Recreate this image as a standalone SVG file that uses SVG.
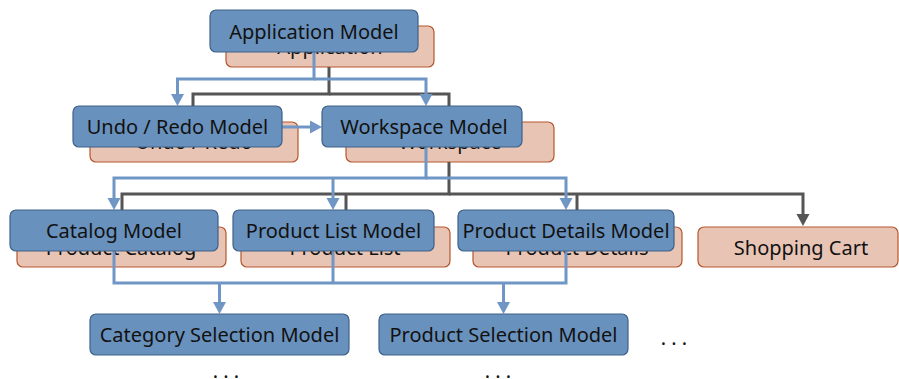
<svg xmlns="http://www.w3.org/2000/svg" width="899" height="379" viewBox="0 0 899 379">
<style>
.pink{fill:#E8C4B5;stroke:#B5562E;stroke-width:1.2}
.blue{fill:#6991BD;stroke:#3E6289;stroke-width:1.2}
text{font-family:"Noto Sans","Liberation Sans",sans-serif;font-size:20px;fill:#111;text-anchor:middle}
.bl{fill:none;stroke:#6F96C4;stroke-width:3}
.dk{fill:none;stroke:#555;stroke-width:3}
</style>
<defs>
<marker id="ab" markerUnits="userSpaceOnUse" markerWidth="13" markerHeight="14" refX="0" refY="6.5" orient="auto"><path d="M0,0 L12,6.5 L0,13 z" fill="#6F96C4"/></marker>
<marker id="ad" markerUnits="userSpaceOnUse" markerWidth="13" markerHeight="14" refX="0" refY="6.5" orient="auto"><path d="M0,0 L12,6.5 L0,13 z" fill="#555"/></marker>
</defs>
<g id="pink-nodes">
<g id="n-application"><rect class="pink" x="226" y="26" width="208" height="41" rx="6"/><text x="330" y="54">Application</text></g>
<g id="n-undoredo"><rect class="pink" x="90" y="122" width="208" height="40" rx="6"/><text x="194" y="149">Undo / Redo</text></g>
<g id="n-workspace"><rect class="pink" x="346" y="122" width="208" height="40" rx="6"/><text x="450" y="149">Workspace</text></g>
<g id="n-productcatalog"><rect class="pink" x="17" y="227" width="209" height="40" rx="6"/><text x="121" y="255">Product Catalog</text></g>
<g id="n-productlist"><rect class="pink" x="241" y="227" width="209" height="40" rx="6"/><text x="345" y="255">Product List</text></g>
<g id="n-productdetails"><rect class="pink" x="473" y="227" width="209" height="40" rx="6"/><text x="577" y="255">Product Details</text></g>
<g id="n-shoppingcart"><rect class="pink" x="698" y="227" width="200" height="40" rx="6"/><text x="801" y="255">Shopping Cart</text></g>
</g>
<g id="connectors">
<path class="dk" d="M329,67 V94 H193 V110" marker-end="url(#ad)"/>
<path class="dk" d="M329,94 H449 V110" marker-end="url(#ad)"/>
<path class="dk" d="M449,162 V194 H122 V214" marker-end="url(#ad)"/>
<path class="dk" d="M346,194 V214" marker-end="url(#ad)"/>
<path class="dk" d="M577,194 V214" marker-end="url(#ad)"/>
<path class="dk" d="M449,194 H803 V214" marker-end="url(#ad)"/>
<path class="bl" d="M314,52 V79 H177.5 V94" marker-end="url(#ab)"/>
<path class="bl" d="M314,79 H426 V94" marker-end="url(#ab)"/>
<path class="bl" d="M282,127 H310" marker-end="url(#ab)"/>
<path class="bl" d="M426,147 V178 H114 V198" marker-end="url(#ab)"/>
<path class="bl" d="M333,178 V198" marker-end="url(#ab)"/>
<path class="bl" d="M426,178 H566 V198" marker-end="url(#ab)"/>
<path class="bl" d="M114,251 V283 H566 V251"/>
<path class="bl" d="M333,251 V283"/>
<path class="bl" d="M219.5,283 V302" marker-end="url(#ab)"/>
<path class="bl" d="M503.5,283 V302" marker-end="url(#ab)"/>
</g>
<g id="blue-nodes">
<g id="n-application-model"><rect class="blue" x="210" y="10" width="208" height="42" rx="6"/><text x="314" y="39">Application Model</text></g>
<g id="n-undoredo-model"><rect class="blue" x="73" y="106" width="209" height="41" rx="6"/><text x="177.5" y="134">Undo / Redo Model</text></g>
<g id="n-workspace-model"><rect class="blue" x="322" y="106" width="200" height="41" rx="6"/><text x="424" y="134">Workspace Model</text></g>
<g id="n-catalog-model"><rect class="blue" x="10" y="210" width="208" height="41" rx="6"/><text x="114" y="238">Catalog Model</text></g>
<g id="n-productlist-model"><rect class="blue" x="233" y="210" width="201" height="41" rx="6"/><text x="333.5" y="238">Product List Model</text></g>
<g id="n-productdetails-model"><rect class="blue" x="458" y="210" width="216" height="41" rx="6"/><text x="566" y="238">Product Details Model</text></g>
<g id="n-categoryselection-model"><rect class="blue" x="90" y="314" width="259" height="41" rx="6"/><text x="219.5" y="342">Category Selection Model</text></g>
<g id="n-productselection-model"><rect class="blue" x="379" y="314" width="249" height="41" rx="6"/><text x="503.5" y="342">Product Selection Model</text></g>
</g>
<g id="ellipses">
<text x="674" y="345">. . .</text>
<text x="226" y="378">. . .</text>
<text x="498" y="378">. . .</text>
</g>
</svg>
